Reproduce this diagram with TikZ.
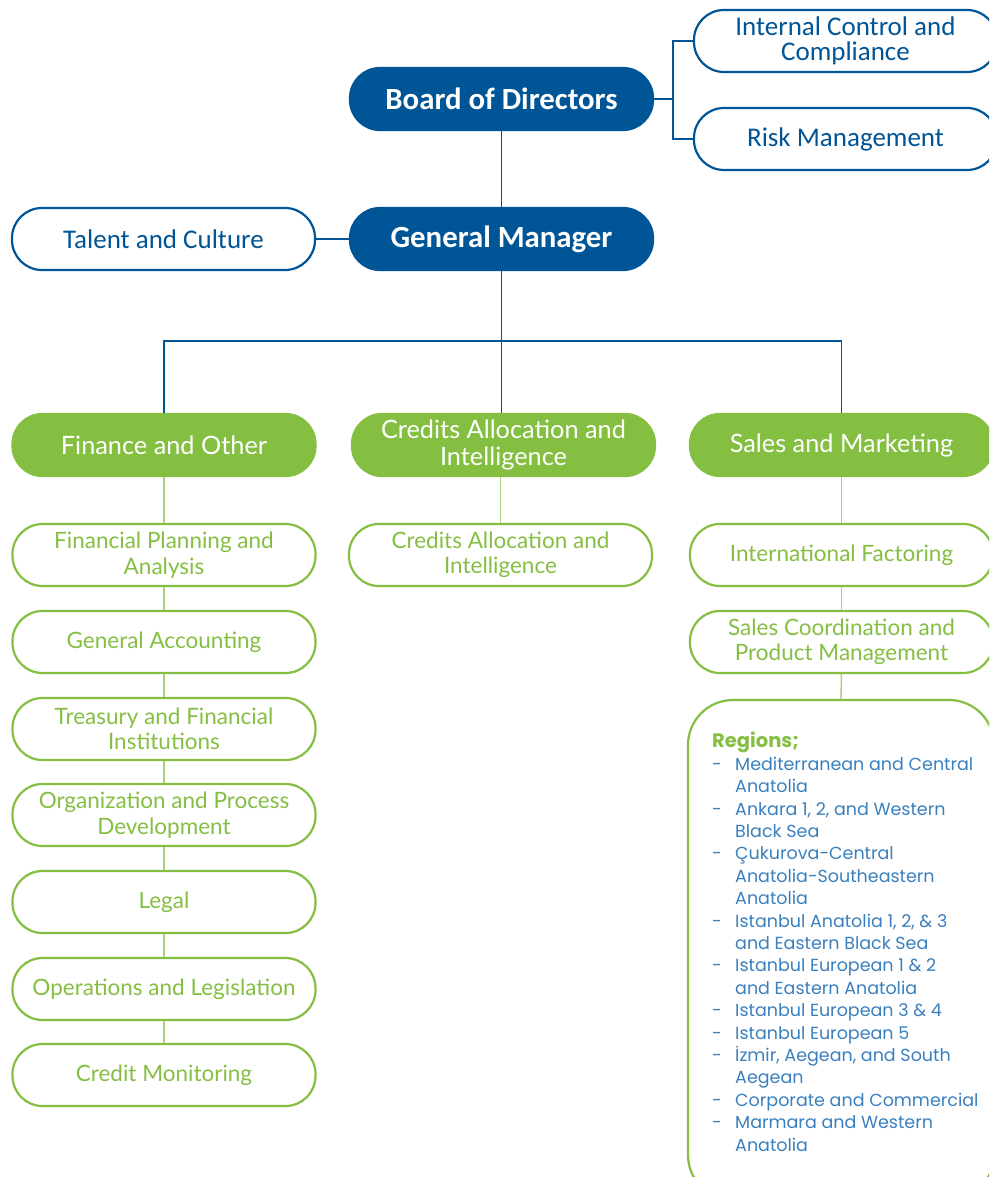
\documentclass[tikz,border=0pt]{standalone}
\usepackage{fontspec}
\setmainfont{Lato}
\newfontfamily\bluefont{Carlito}
\newfontfamily\listfont{Poppins}
\definecolor{dblue}{HTML}{005596}
\definecolor{lgreen}{HTML}{84BF41}
\definecolor{llgreen}{HTML}{A9D27C}
\definecolor{lblue}{HTML}{3A80BF}
\tikzset{
  pill/.style={rectangle, rounded corners=30pt, minimum width=303pt, minimum height=62pt,
    inner sep=0pt, align=center, line width=2.2pt},
  bluefill/.style={pill, fill=dblue, draw=dblue, text=white,
    font=\bluefont\bfseries\fontsize{30.8}{31}\selectfont},
  blueline/.style={pill, draw=dblue, fill=white, text=dblue,
    font=\bluefont\fontsize{27}{25.5}\selectfont},
  greenfill/.style={pill, fill=lgreen, draw=lgreen, text=white,
    font=\fontsize{25.3}{27}\selectfont},
  greenline/.style={pill, draw=lgreen, fill=white, text=lgreen,
    font=\fontsize{22.5}{25.5}\selectfont},
  bconn/.style={draw=dblue, line width=1.1pt},
  gconn/.style={draw=llgreen, line width=1.5pt},
}
\begin{document}
\begin{tikzpicture}[x=1pt,y=-1pt]
\clip (0,0) rectangle (989,1177);
\fill[white] (0,0) rectangle (989,1177);

% top management
\node[bluefill] (board) at (501.5,99) {Board of Directors};
\node[bluefill] (gm) at (501.5,239) {General Manager};
\node[blueline] (icc) at (845.5,41) {Internal Control and\\Compliance};
\node[blueline] (risk) at (845.5,139) {Risk Management};
\node[blueline] (talent) at (163.5,239) {Talent and Culture};

% divisions
\node[greenfill] (fin) at (164,445) {Finance and Other};
\node[greenfill] (cai) at (503.5,445) {Credits Allocation and\\Intelligence};
\node[greenfill] (sam) at (841.5,445) {Sales and Marketing};

% finance departments
\node[greenline] (fpa) at (164,555) {Financial Planning and\\Analysis};
\node[greenline] (acc) at (164,642) {General Accounting};
\node[greenline] (tfi) at (164,729) {Treasury and Financial\\Institutions};
\node[greenline] (opd) at (164,815) {Organization and Process\\Development};
\node[greenline] (leg) at (164,902) {Legal};
\node[greenline] (ops) at (164,989) {Operations and Legislation};
\node[greenline] (cmon) at (164,1075) {Credit Monitoring};

% credits department
\node[greenline] (cai2) at (500.5,555) {Credits Allocation and\\Intelligence};

% sales departments
\node[greenline] (intf) at (841.5,555) {International Factoring};
\node[greenline] (scp) at (841.5,642) {Sales Coordination and\\Product Management};
\node[pill, draw=lgreen, fill=white, rounded corners=45pt, minimum height=500pt,
      minimum width=306pt] (regbox) at (841,950) {};
\node[anchor=north west, inner sep=0pt, text=lblue,
      font=\listfont\fontsize{17.5}{22.4}\selectfont] (reglist) at (712,732) {%
  \begin{tabular}{@{}p{23pt}@{}l@{}}
  \multicolumn{2}{@{}l@{}}{\textcolor{lgreen}{\bfseries\fontsize{19.5}{22.4}\selectfont Regions;}}\\
  - & Mediterranean and Central\\
    & Anatolia\\
  - & Ankara 1, 2, and Western\\
    & Black Sea\\
  - & Çukurova-Central\\
    & Anatolia-Southeastern\\
    & Anatolia\\
  - & Istanbul Anatolia 1, 2, \& 3\\
    & and Eastern Black Sea\\
  - & Istanbul European 1 \& 2\\
    & and Eastern Anatolia\\
  - & Istanbul European 3 \& 4\\
  - & Istanbul European 5\\
  - & İzmir, Aegean, and South\\
    & Aegean\\
  - & Corporate and Commercial\\
  - & Marmara and Western\\
    & Anatolia
  \end{tabular}};

% blue connectors
\coordinate (bj) at (673,99);
\coordinate (hb) at (501.5,341);
\draw[bconn] (board.east) -- (bj);
\draw[bconn] (icc.west) -| (bj) |- (risk.west);
\draw[bconn] (board.south) -- (gm.north);
\draw[bconn] (talent.east) -- (gm.west);
\draw[bconn] (gm.south) -- (hb);
\draw[bconn] (fin.north) |- (hb) -| (sam.north);
\draw[bconn] (hb) -- (hb |- cai.north);

% green connectors
\draw[gconn] (fin.south) -- (fpa.north);
\draw[gconn] (fpa.south) -- (acc.north);
\draw[gconn] (acc.south) -- (tfi.north);
\draw[gconn] (tfi.south) -- (opd.north);
\draw[gconn] (opd.south) -- (leg.north);
\draw[gconn] (leg.south) -- (ops.north);
\draw[gconn] (ops.south) -- (cmon.north);
\draw[gconn] (cai.south -| cai2.north) -- (cai2.north);
\draw[gconn] (sam.south) -- (intf.north);
\draw[gconn] (intf.south) -- (scp.north);
\draw[gconn] (scp.south) -- (regbox.north);
\end{tikzpicture}
\end{document}
